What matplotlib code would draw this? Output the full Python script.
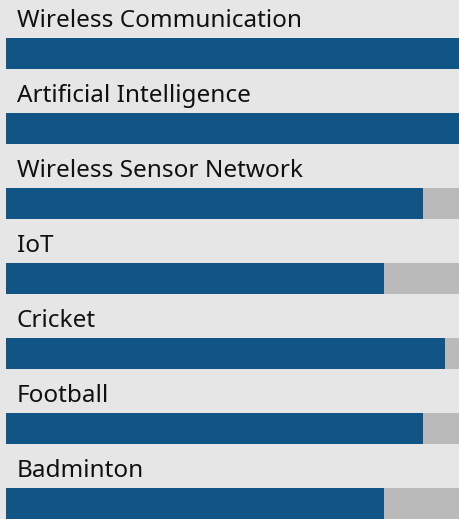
import matplotlib
matplotlib.use("Agg")
import matplotlib.pyplot as plt

categories = ["Wireless Communication", "Artificial Intelligence", "Wireless Sensor Network",
              "IoT", "Cricket", "Football", "Badminton"]
values = [100, 100, 92, 83.5, 97, 92, 83.5]
max_value = 100

W, H = 459, 519
fig = plt.figure(figsize=(W / 100, H / 100), dpi=100)
fig.patch.set_facecolor("#e6e6e6")

left_px = 6
ax = fig.add_axes([left_px / W, 0, (W - left_px) / W, 1])
ax.set_facecolor("none")
period = 75.0
first_center = 53.5
ax.set_xlim(0, max_value)
ax.set_ylim((H - first_center) / period, -first_center / period)
ax.axis("off")

ypos = list(range(len(categories)))
bar_h = 31 / period
ax.barh(ypos, [max_value] * len(categories), height=bar_h, color="#bababa", linewidth=0)
ax.barh(ypos, values, height=bar_h, color="#105585", linewidth=0)

label_x = (17 - left_px) / (W - left_px) * max_value
label_dy = (27 - first_center) / period
for y, name in zip(ypos, categories):
    ax.text(label_x, y + label_dy, name, fontsize=17.5, family=["Noto Sans", "DejaVu Sans"],
            color="#111111", va="baseline", ha="left")

fig.savefig("out.png", dpi=100, facecolor=fig.get_facecolor())
